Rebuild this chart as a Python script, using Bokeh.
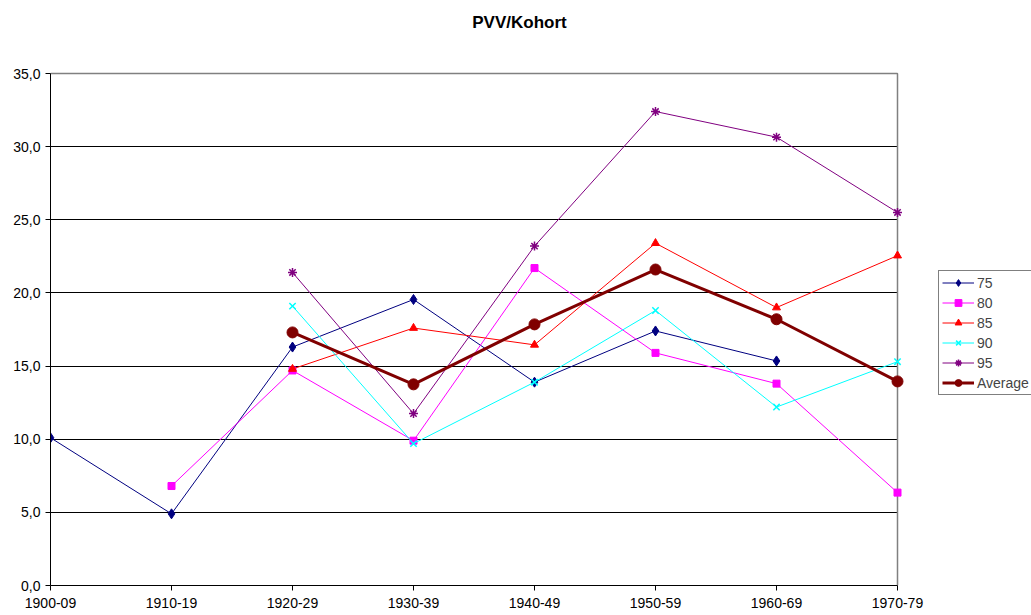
import numpy as np
from bokeh.plotting import figure
from bokeh.models import Legend, LegendItem, FixedTicker, Range1d, Label
from bokeh.embed import file_html
from bokeh.resources import INLINE

nan = np.nan
categories = ["1900-09", "1910-19", "1920-29", "1930-39", "1940-49", "1950-59", "1960-69", "1970-79"]
s75 = [10.1, 4.9, 16.3, 19.55, 13.9, 17.4, 15.35, nan]
s80 = [nan, 6.8, 14.7, 9.9, 21.7, 15.9, 13.8, 6.35]
s85 = [nan, nan, 14.8, 17.6, 16.45, 23.4, 19.0, 22.55]
s90 = [nan, nan, 19.1, 9.7, 13.9, 18.8, 12.2, 15.3]
s95 = [nan, nan, 21.4, 11.75, 23.2, 32.4, 30.65, 25.5]
savg = [nan, nan, 17.3, 13.75, 17.85, 21.6, 18.2, 13.95]
y_ticks = [0, 5, 10, 15, 20, 25, 30, 35]
title_text = "PVV/Kohort"

FONT = "Liberation Sans"
x = list(range(len(categories)))
xmax = len(categories) - 1
ymax = y_ticks[-1]

# layout (page pixels)
W, H = 1031, 615
left, right_px, top_px, bottom = 50, 897, 73, 30
bottom_px = H - bottom
frame_w = W - left
x_end = xmax * frame_w / (right_px - left)
y_end = ymax * bottom_px / (bottom_px - top_px)
title_cx, title_cy = 519, 22
title_x = xmax * (title_cx - left) / (right_px - left)
title_y = ymax * (bottom_px - title_cy) / (bottom_px - top_px)

p = figure(width=W, height=H, output_backend="svg", toolbar_location=None,
           x_range=Range1d(0, x_end), y_range=Range1d(0, y_end),
           min_border_left=left, min_border_right=0, min_border_bottom=bottom, min_border_top=0)

p.outline_line_color = None
p.xgrid.grid_line_color = None
p.ygrid.grid_line_color = "black"
p.ygrid.grid_line_width = 1
p.ygrid.cross_bounds = (0, xmax)

p.xaxis.ticker = FixedTicker(ticks=x)
p.xaxis.bounds = (0, xmax)
p.xaxis.major_label_overrides = {i: c for i, c in enumerate(categories)}
p.yaxis.ticker = FixedTicker(ticks=y_ticks)
p.yaxis.bounds = (0, ymax)
p.yaxis.major_label_overrides = {t: f"{t},0" for t in y_ticks}
for ax in (p.xaxis, p.yaxis):
    ax.axis_line_color = "black"
    ax.major_tick_line_color = "black"
    ax.major_tick_out = 5
    ax.major_tick_in = 0
    ax.minor_tick_line_color = None
    ax.major_label_text_font = FONT
    ax.major_label_text_font_size = "14px"
    ax.major_label_text_color = "black"
p.xaxis.major_label_standoff = 7
p.yaxis.major_label_standoff = 5

# plot-area border (top and right), gray
p.segment(x0=[0, xmax], y0=[ymax, 0], x1=[xmax, xmax], y1=[ymax, ymax],
          line_color="#808080", line_width=1.5)

p.add_layout(Label(x=title_x, y=title_y, text=title_text, text_align="center",
                   text_baseline="middle", text_font=FONT, text_font_size="17px",
                   text_font_style="bold", text_color="black"))

items = []
specs = [
    ("75", s75, "#000080", "diamond", 10, 1),
    ("80", s80, "#FF00FF", "square", 7, 1),
    ("85", s85, "#FF0000", "triangle", 8, 1),
    ("90", s90, "#00FFFF", "x", 9, 1),
    ("95", s95, "#800080", "asterisk", 9, 1),
    ("Average", savg, "#800000", "circle", 11, 3),
]
for name, ys, col, mk, sz, lw in specs:
    r1 = p.line(x, ys, line_color=col, line_width=lw)
    r2 = p.scatter(x, ys, marker=mk, size=sz, line_color=col, fill_color=col,
                   line_width=1.5 if mk in ("x", "asterisk") else 1)
    items.append(LegendItem(label=name, renderers=[r1, r2]))

legend = Legend(items=items, location=(888, 190), border_line_color="black",
                border_line_width=1, label_text_font=FONT, label_text_font_size="14px",
                label_height=17, glyph_height=17, glyph_width=32, spacing=3,
                padding=3, margin=0, label_standoff=3)
p.add_layout(legend, "center")

open("out.html", "w").write(file_html(p, INLINE))
